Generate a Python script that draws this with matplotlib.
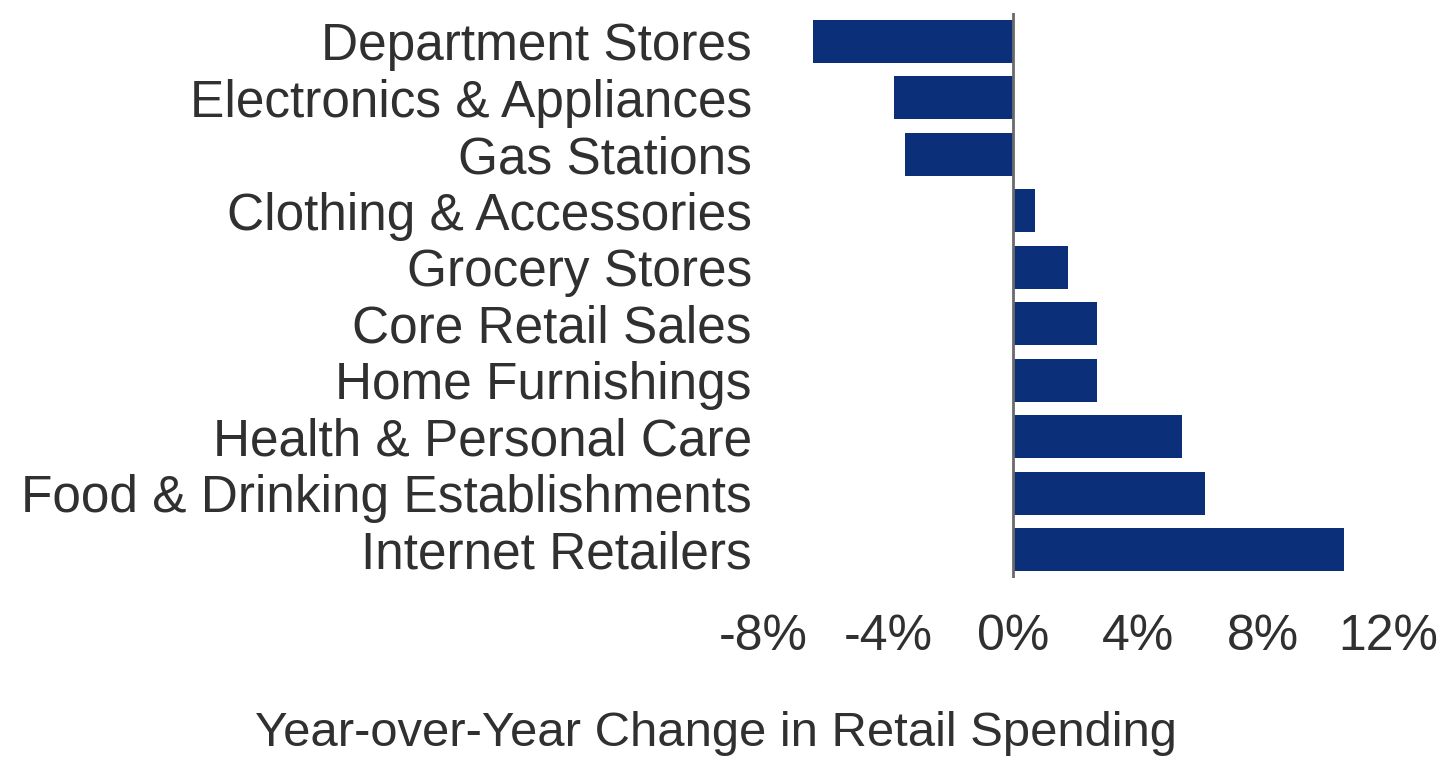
import matplotlib
matplotlib.use("Agg")
import matplotlib.pyplot as plt

categories = [
    "Department Stores",
    "Electronics & Appliances",
    "Gas Stations",
    "Clothing & Accessories",
    "Grocery Stores",
    "Core Retail Sales",
    "Home Furnishings",
    "Health & Personal Care",
    "Food & Drinking Establishments",
    "Internet Retailers",
]
yoy_change = [-6.4, -3.8, -3.45, 0.7, 1.75, 2.7, 2.7, 5.4, 6.15, 10.6]
x_ticks = [-8, -4, 0, 4, 8, 12]
x_tick_labels = ["-8%", "-4%", "0%", "4%", "8%", "12%"]
x_title = "Year-over-Year Change in Retail Spending"

BAR_COLOR = "#0b2f78"
TEXT_COLOR = "#303030"

plt.rcParams["font.family"] = ["Liberation Sans", "DejaVu Sans"]

fig = plt.figure(figsize=(14.44, 7.58), dpi=100)
ax = fig.add_axes([763 / 1444, 1 - 578 / 758, 625 / 1444, 565 / 758])

pos = list(range(len(categories)))
ax.barh(pos, yoy_change, height=0.76, color=BAR_COLOR, zorder=2)
ax.axvline(0, color="#6a6a6a", linewidth=2, zorder=3)

ax.set_xlim(-8, 12)
ax.set_ylim(len(categories) - 0.5, -0.5)

ax.set_yticks(pos)
ax.set_yticklabels(categories, fontsize=37, color=TEXT_COLOR)
ax.set_xticks(x_ticks)
ax.set_xticklabels(x_tick_labels, fontsize=36, color=TEXT_COLOR)
ax.tick_params(axis="y", length=0, pad=8)
ax.tick_params(axis="x", length=0, pad=26)

for s in ax.spines.values():
    s.set_visible(False)

fig.text(716 / 1444, 1 - 746 / 758, x_title, ha="center", va="baseline",
         fontsize=35.3, color=TEXT_COLOR)

fig.savefig("out.png", dpi=100, facecolor="white")
